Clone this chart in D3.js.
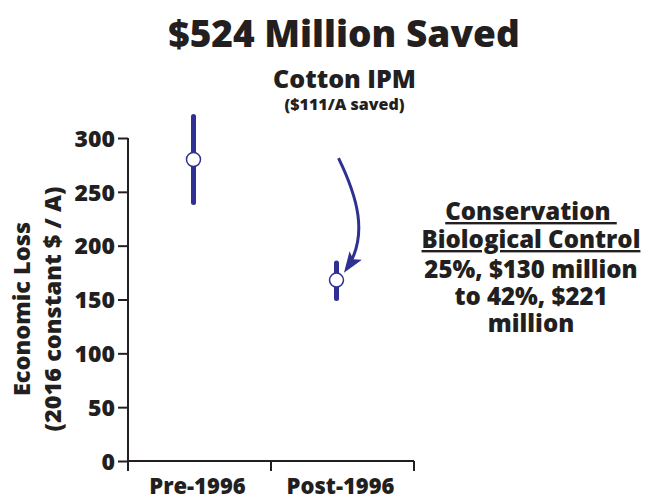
<!DOCTYPE html>
<html>
<head>
<meta charset="utf-8">
<script src="https://cdn.jsdelivr.net/npm/d3@7"></script>
<style>
  body { margin: 0; background: #fff; }
  svg text { font-family: "Open Sans", "Noto Sans", sans-serif; font-weight: 800; fill: #231f20; }
</style>
</head>
<body>
<svg id="chart"></svg>
<script>
// values
const periods = ["Pre-1996", "Post-1996"];
const lossMid = [280, 168];
const lossLow = [240, 151];
const lossHigh = [320, 184];
const yTicks = [0, 50, 100, 150, 200, 250, 300];

const sideNote = ["25%, $130 million", "to 42%, $221", "million"];

const width = 652, height = 500;
const blue = "#2e3192";

const svg = d3.select("#chart").attr("width", width).attr("height", height);

const x = d3.scaleBand().domain(periods).range([128, 414]);
const y = d3.scaleLinear().domain([0, 300]).range([461, 138]);

const data = periods.map((p, i) => ({ p, mid: lossMid[i], lo: lossLow[i], hi: lossHigh[i] }));

// title
svg.append("text")
  .attr("x", 344).attr("y", 47)
  .attr("text-anchor", "middle")
  .style("font-size", "37px")
  .text("$524 Million Saved");

// y axis
const yAxis = svg.append("g")
  .attr("transform", "translate(128,0)")
  .call(d3.axisLeft(y).tickValues(yTicks).tickSize(10).tickPadding(3));
yAxis.selectAll("text").style("font-size", "23px").attr("dy", "0.36em");
yAxis.select(".domain").attr("stroke", "#231f20").attr("stroke-width", 2)
  .attr("d", `M0,${y(300)}V${y(0)}`);
yAxis.selectAll(".tick line").attr("stroke", "#231f20").attr("stroke-width", 2);

// x axis, ticks sit on the band edges
const xAxis = svg.append("g").attr("transform", "translate(0,461)");
xAxis.append("line")
  .attr("x1", x.range()[0]).attr("x2", x.range()[1])
  .attr("stroke", "#231f20").attr("stroke-width", 2);
const edges = [x.range()[0]].concat(periods.map(p => x(p) + x.bandwidth()));
xAxis.selectAll("line.tick")
  .data(edges)
  .enter().append("line")
  .attr("class", "tick")
  .attr("x1", d => d).attr("x2", d => d)
  .attr("y1", 0).attr("y2", 10)
  .attr("stroke", "#231f20").attr("stroke-width", 2);
xAxis.selectAll("text")
  .data(periods)
  .enter().append("text")
  .attr("x", d => x(d) + x.bandwidth() / 2 - 2)
  .attr("y", 33)
  .attr("text-anchor", "middle")
  .style("font-size", "22px")
  .text(d => d);

// y label
const yl = svg.append("text")
  .attr("transform", "translate(0,309) rotate(-90)")
  .attr("text-anchor", "middle")
  .style("font-size", "23.5px");
yl.append("tspan").attr("x", 0).attr("y", 30).text("Economic Loss");
yl.append("tspan").attr("x", 0).attr("y", 61).text("(2016 constant $ / A)");

// ranges and points
const cx = d => x(d.p) + x.bandwidth() / 2 - 6;
svg.selectAll("line.range")
  .data(data)
  .enter().append("line")
  .attr("class", "range")
  .attr("x1", cx).attr("x2", cx)
  .attr("y1", d => y(d.lo)).attr("y2", d => y(d.hi))
  .attr("stroke", blue).attr("stroke-width", 5)
  .attr("stroke-linecap", "round");
svg.selectAll("circle.pt")
  .data(data)
  .enter().append("circle")
  .attr("class", "pt")
  .attr("cx", cx).attr("cy", d => y(d.mid))
  .attr("r", 7)
  .attr("fill", "#fff").attr("stroke", blue).attr("stroke-width", 1.5);

// Cotton IPM annotation with arrow
const post = data[1];
const px = cx(post), py = y(post.mid);
svg.append("text")
  .attr("x", px + 8).attr("y", 88)
  .attr("text-anchor", "middle")
  .style("font-size", "25px")
  .text("Cotton IPM");
svg.append("text")
  .attr("x", px + 8).attr("y", 110)
  .attr("text-anchor", "middle")
  .style("font-size", "16px")
  .text("($111/A saved)");

svg.append("defs").append("marker")
  .attr("id", "head")
  .attr("viewBox", "0 0 14 10")
  .attr("refX", 11).attr("refY", 5)
  .attr("markerWidth", 7).attr("markerHeight", 5)
  .attr("markerUnits", "strokeWidth")
  .attr("orient", "auto")
  .append("path").attr("d", "M0,0L14,5L0,10L3,5Z").attr("fill", blue);

svg.append("path")
  .attr("d", `M${px + 2},${py - 122} C${px + 20},${py - 85} ${px + 33},${py - 45} ${px + 10},${py - 11}`)
  .attr("fill", "none")
  .attr("stroke", blue).attr("stroke-width", 3)
  .attr("marker-end", "url(#head)");

// side note
const noteX = 531;
const head = svg.append("g").style("font-size", "24px").attr("text-anchor", "middle");
head.append("text").attr("x", noteX).attr("y", 220)
  .style("text-decoration", "underline").style("white-space", "pre")
  .text("Conservation\u00a0");
head.append("text").attr("x", noteX).attr("y", 248)
  .style("text-decoration", "underline")
  .text("Biological Control");
head.selectAll("text.note")
  .data(sideNote)
  .enter().append("text")
  .attr("class", "note")
  .attr("x", noteX)
  .attr("y", (d, i) => 278 + i * 27)
  .text(d => d);
</script>
</body>
</html>
